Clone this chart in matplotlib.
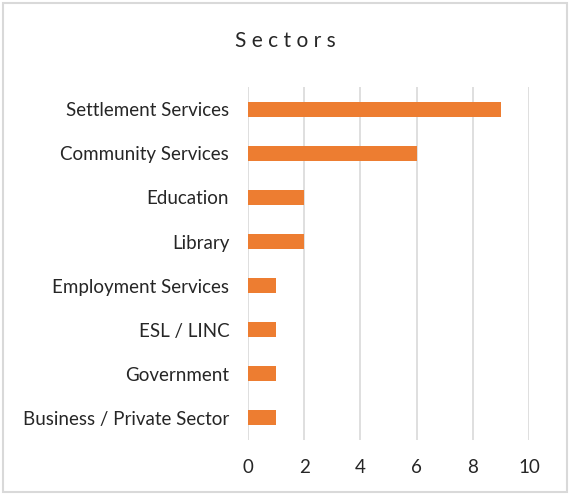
import matplotlib.pyplot as plt
from matplotlib.patches import Rectangle

plt.rcParams['font.family'] = ['Lato', 'DejaVu Sans']

sectors = ["Settlement Services", "Community Services", "Education", "Library",
           "Employment Services", "ESL / LINC", "Government", "Business / Private Sector"]
counts = [9, 6, 2, 2, 1, 1, 1, 1]
ticks = [0, 2, 4, 6, 8, 10]

fig = plt.figure(figsize=(5.7, 4.95), dpi=100)
ax = fig.add_axes([0.435, 0.111, 0.493, 0.713])

ypos = list(range(len(sectors)))
ax.barh(ypos, counts, height=0.34, color="#ED7D31", zorder=3)
ax.set_ylim(len(sectors) - 0.5, -0.5)
ax.set_xlim(0, 10)
ax.set_xticks(ticks)
ax.set_yticks(ypos)
ax.set_yticklabels(sectors)
ax.xaxis.grid(True, color="#D9D9D9", linewidth=1.2, zorder=0)
for s in ax.spines.values():
    s.set_visible(False)
ax.tick_params(length=0, labelsize=13.5, colors="#262626")
ax.tick_params(axis="x", pad=14)
ax.tick_params(axis="y", pad=13.5)

fig.text(0.5, 0.918, "S e c t o r s", ha="center", va="center", fontsize=15, color="#262626")

# light frame around the whole chart
fig.patches.append(Rectangle((0.006, 0.006), 0.988, 0.988, transform=fig.transFigure,
                             fill=False, edgecolor="#D9D9D9", linewidth=1.5))

fig.savefig("out.png", dpi=100)
